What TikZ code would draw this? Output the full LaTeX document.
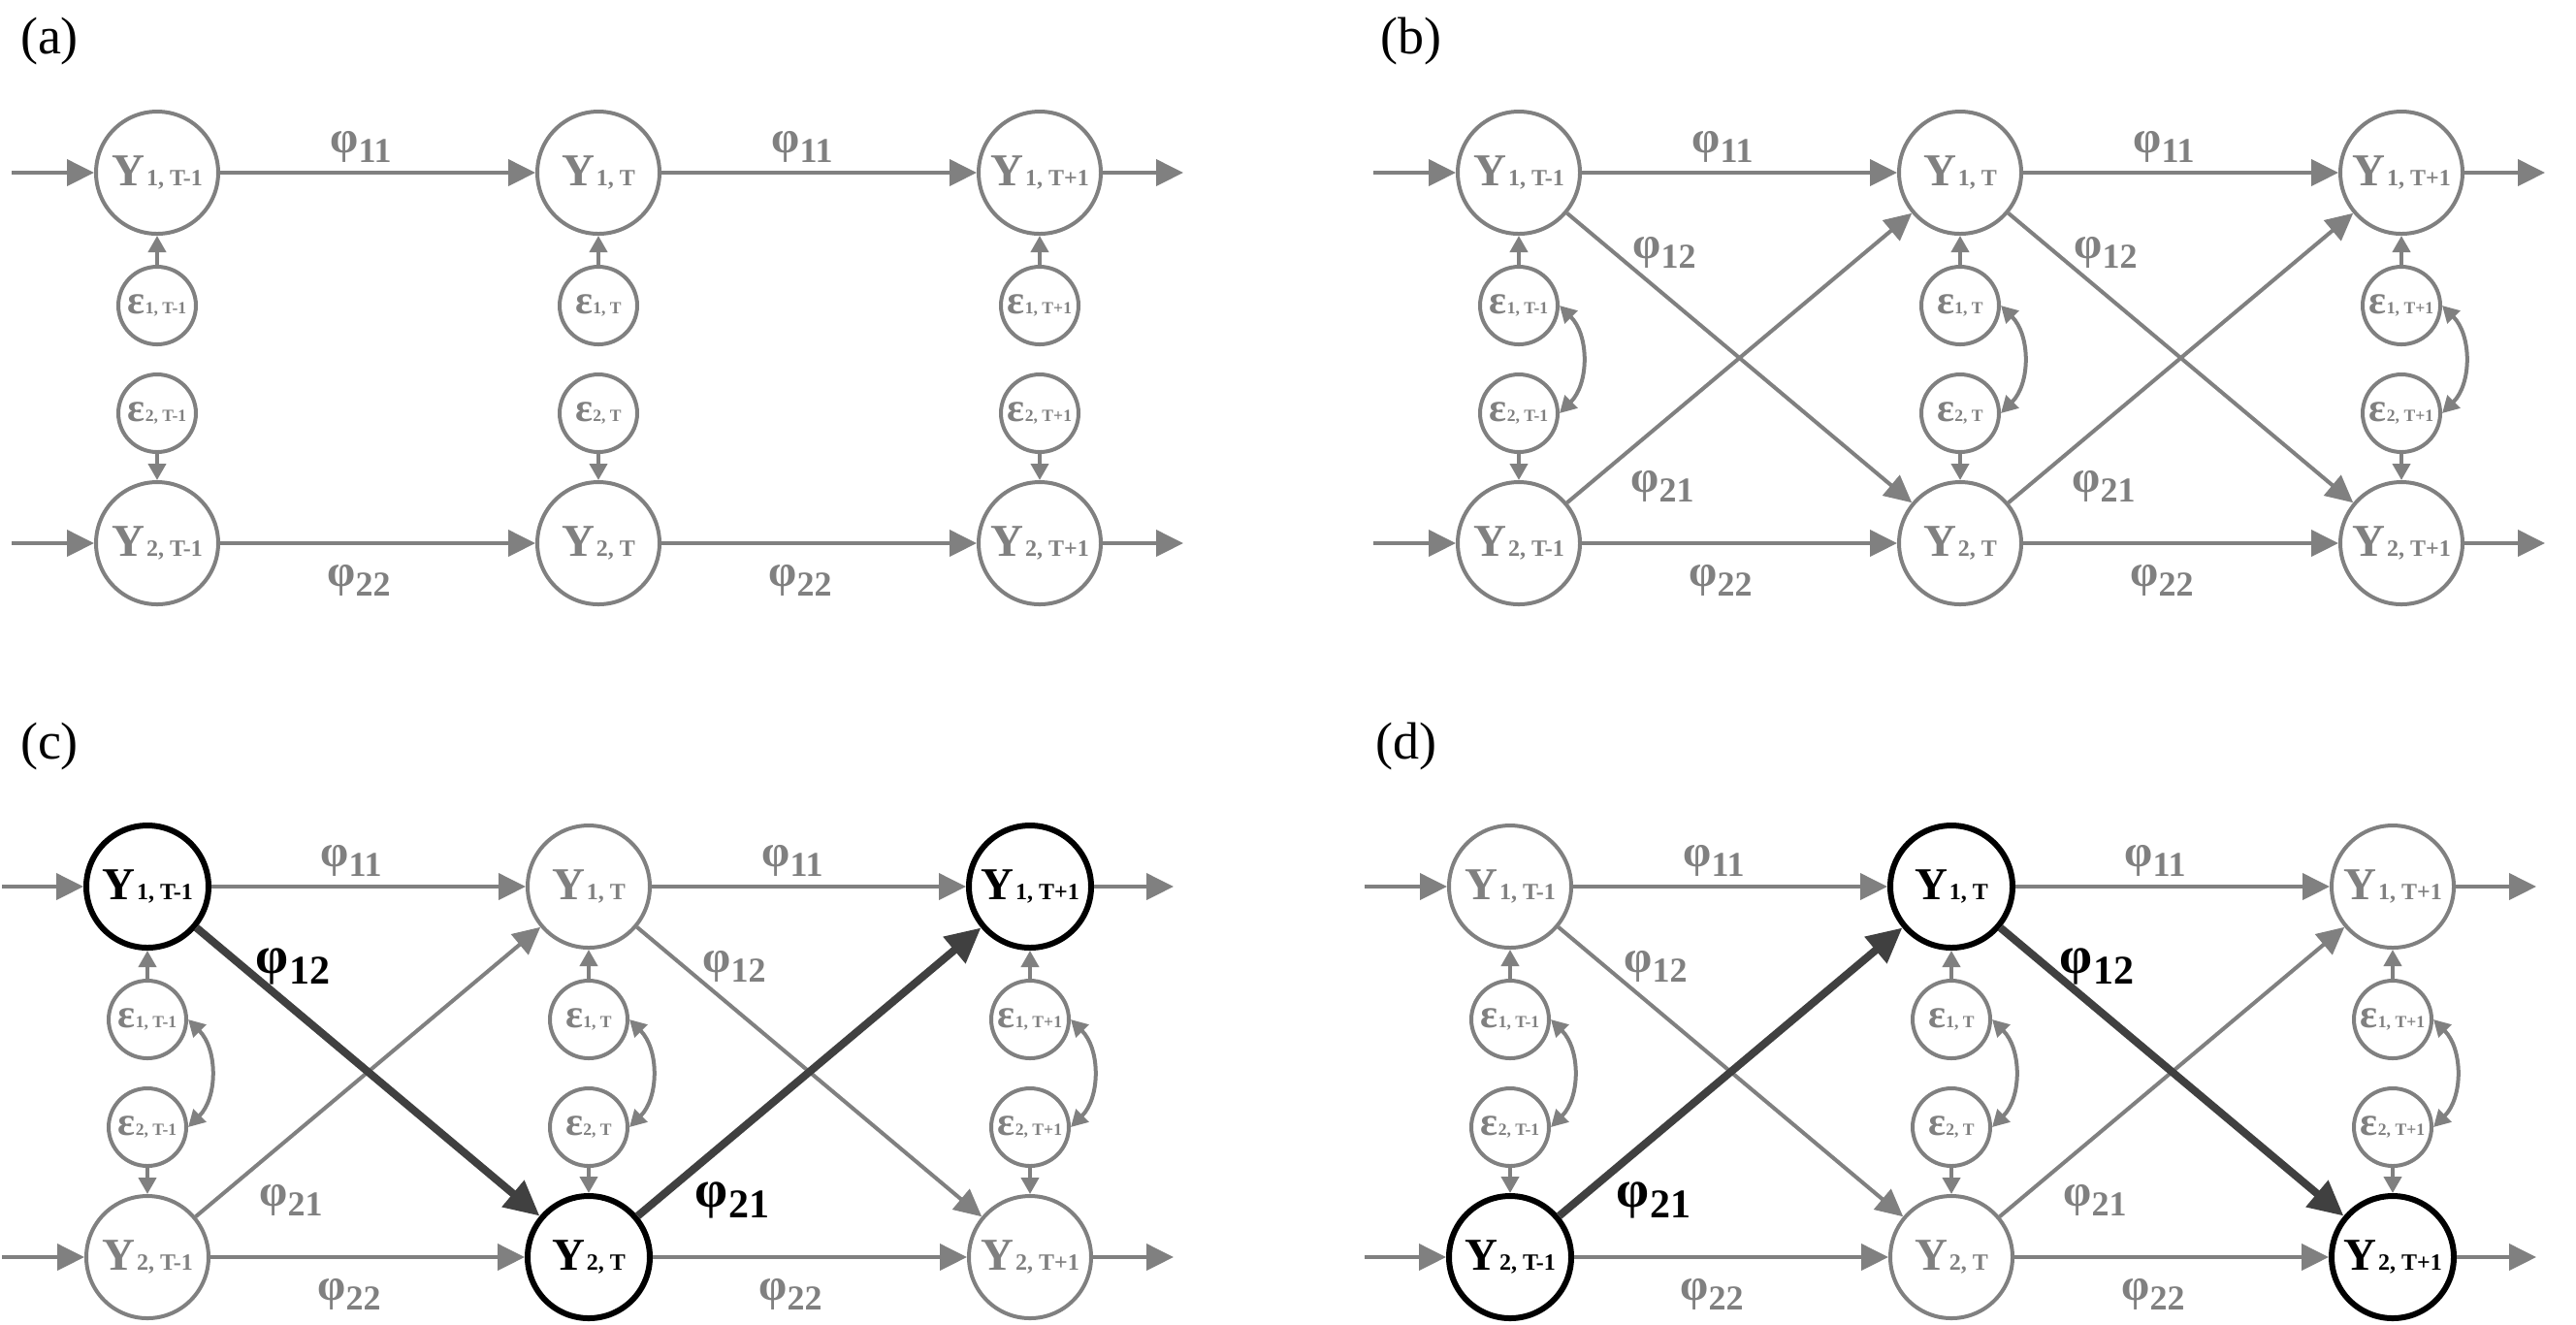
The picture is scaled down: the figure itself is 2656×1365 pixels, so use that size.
\documentclass[tikz,border=0pt]{standalone}
\usepackage{fontspec}
\usepackage{graphicx}
\setmainfont{Liberation Serif}
\usetikzlibrary{arrows.meta}
\definecolor{lgray}{HTML}{808080}
\definecolor{dkgray}{HTML}{404040}
\newcommand\Yt[2]{{\fontsize{11.75pt}{12pt}\selectfont Y}\kern0.5pt{\fontsize{6pt}{7pt}\selectfont #1, #2}}
\newcommand\Et[2]{{\fontsize{10.5pt}{12pt}\selectfont ε}{\fontsize{4.4pt}{5pt}\selectfont #1, #2}}
\newcommand\Ph[1]{\scalebox{1.3}{φ}\raisebox{-0.28em}{#1}}
\newcommand\basepanel[1]{%
  \node[Ynode,Y1a] (#1Y1a) at (0,0)     {\Yt{1}{T-1}};
  \node[Ynode,Y1b] (#1Y1b) at (455,0)   {\Yt{1}{T}};
  \node[Ynode,Y1c] (#1Y1c) at (910,0)   {\Yt{1}{T+1}};
  \node[Ynode,Y2a] (#1Y2a) at (0,382)   {\Yt{2}{T-1}};
  \node[Ynode,Y2b] (#1Y2b) at (455,382) {\Yt{2}{T}};
  \node[Ynode,Y2c] (#1Y2c) at (910,382) {\Yt{2}{T+1}};
  \node[Enode] (#1E1a) at (0,137)   {\Et{1}{T-1}};
  \node[Enode] (#1E1b) at (455,137) {\Et{1}{T}};
  \node[Enode] (#1E1c) at (910,137) {\Et{1}{T+1}};
  \node[Enode] (#1E2a) at (0,248)   {\Et{2}{T-1}};
  \node[Enode] (#1E2b) at (455,248) {\Et{2}{T}};
  \node[Enode] (#1E2c) at (910,248) {\Et{2}{T+1}};
  \coordinate (#1in1) at (-150,0);
  \coordinate (#1in2) at (-150,382);
  \coordinate (#1out1) at (1058,0);
  \coordinate (#1out2) at (1058,382);
  \draw[arr] (#1in1) -- (#1Y1a);
  \draw[arr] (#1in2) -- (#1Y2a);
  \draw[arr] (#1Y1a) -- (#1Y1b);
  \draw[arr] (#1Y1b) -- (#1Y1c);
  \draw[arr] (#1Y2a) -- (#1Y2b);
  \draw[arr] (#1Y2b) -- (#1Y2c);
  \draw[arr] (#1Y1c) -- (#1out1);
  \draw[arr] (#1Y2c) -- (#1out2);
  \draw[earr] (#1E1a) -- (#1Y1a);
  \draw[earr] (#1E1b) -- (#1Y1b);
  \draw[earr] (#1E1c) -- (#1Y1c);
  \draw[earr] (#1E2a) -- (#1Y2a);
  \draw[earr] (#1E2b) -- (#1Y2b);
  \draw[earr] (#1E2c) -- (#1Y2c);
  \node[lab] (#1L11a) at (210,-27) {\Ph{11}};
  \node[lab] (#1L11b) at (665,-27) {\Ph{11}};
  \node[lab] (#1L22a) at (208,420) {\Ph{22}};
  \node[lab] (#1L22b) at (663,420) {\Ph{22}};
}
\newcommand\crosspanel[1]{%
  \draw[cov] (#1E1a.east) to[bend left=45] (#1E2a.east);
  \draw[cov] (#1E1b.east) to[bend left=45] (#1E2b.east);
  \draw[cov] (#1E1c.east) to[bend left=45] (#1E2c.east);
  \node[lab,L12a] (#1L12a) at (150,82)  {\Ph{12}};
  \node[lab,L12b] (#1L12b) at (605,82)  {\Ph{12}};
  \node[lab,L21a] (#1L21a) at (148,323) {\Ph{21}};
  \node[lab,L21b] (#1L21b) at (603,323) {\Ph{21}};
}
\begin{document}
\begin{tikzpicture}[x=0.25pt,y=-0.25pt,
  Ynode/.style={circle,draw=lgray,line width=1pt,minimum size=31.5pt,inner sep=0pt,text=lgray,fill=white,font=\bfseries},
  Enode/.style={circle,draw=lgray,line width=1pt,minimum size=20pt,inner sep=0pt,text=lgray,fill=white,font=\bfseries},
  hl/.style={draw=black,line width=1.5pt,text=black},
  arr/.style={draw=lgray,line width=1pt,-{Triangle[length=7pt,width=6.75pt]}},
  earr/.style={draw=lgray,line width=1pt,-{Triangle[length=4.25pt,width=4.5pt]}},
  cov/.style={draw=lgray,line width=1pt,{Triangle[length=4.25pt,width=4.5pt]}-{Triangle[length=4.25pt,width=4.5pt]}},
  hlarr/.style={draw=dkgray,line width=2pt,-{Triangle[length=9pt,width=8.5pt]}},
  lab/.style={text=lgray,inner sep=0pt,font=\fontsize{9pt}{11pt}\selectfont\bfseries},
  hllab/.style={text=black,font=\fontsize{10.5pt}{12pt}\selectfont\bfseries},
  panellab/.style={inner sep=0pt,font=\fontsize{13.5pt}{15pt}\selectfont},
  Y1a/.style={},Y1b/.style={},Y1c/.style={},Y2a/.style={},Y2b/.style={},Y2c/.style={},
  L12a/.style={},L12b/.style={},L21a/.style={},L21b/.style={}]
\path[fill=white,use as bounding box] (0,0) rectangle (2656,1365);
\node[panellab] (la) at (51,42) {(a)};
\node[panellab] (lb) at (1455,42) {(b)};
\node[panellab] (lc) at (51,769) {(c)};
\node[panellab] (ld) at (1450,769) {(d)};
% (a)
\begin{scope}[shift={(162,178)}]
  \basepanel{a}
\end{scope}
% (b)
\begin{scope}[shift={(1566,178)}]
  \basepanel{b}
  \crosspanel{b}
  \draw[arr] (bY1a) -- (bY2b);
  \draw[arr] (bY2a) -- (bY1b);
  \draw[arr] (bY1b) -- (bY2c);
  \draw[arr] (bY2b) -- (bY1c);
\end{scope}
% (c)
\begin{scope}[shift={(152,914)},Y1a/.style={hl},Y2b/.style={hl},Y1c/.style={hl},L12a/.style={hllab},L21b/.style={hllab}]
  \basepanel{c}
  \crosspanel{c}
  \draw[arr] (cY2a) -- (cY1b);
  \draw[arr] (cY1b) -- (cY2c);
  \draw[hlarr] (cY1a) -- (cY2b);
  \draw[hlarr] (cY2b) -- (cY1c);
\end{scope}
% (d)
\begin{scope}[shift={(1557,914)},Y2a/.style={hl},Y1b/.style={hl},Y2c/.style={hl},L21a/.style={hllab},L12b/.style={hllab}]
  \basepanel{d}
  \crosspanel{d}
  \draw[arr] (dY1a) -- (dY2b);
  \draw[arr] (dY2b) -- (dY1c);
  \draw[hlarr] (dY2a) -- (dY1b);
  \draw[hlarr] (dY1b) -- (dY2c);
\end{scope}
\end{tikzpicture}
\end{document}
